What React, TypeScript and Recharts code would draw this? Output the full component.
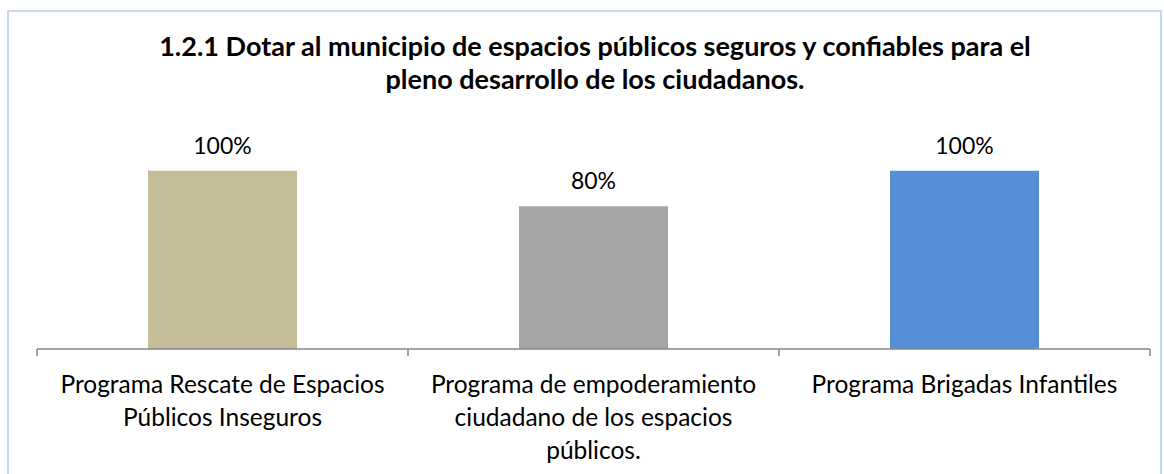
import React from 'react';
import { BarChart, Bar, XAxis, YAxis, Cell, LabelList } from 'recharts';

const categories = [
  'Programa Rescate de Espacios Públicos Inseguros',
  'Programa de empoderamiento ciudadano de los espacios públicos.',
  'Programa Brigadas Infantiles',
];
const tickLines = [
  ['Programa Rescate de Espacios', 'Públicos Inseguros'],
  ['Programa de empoderamiento', 'ciudadano de los espacios', 'públicos.'],
  ['Programa Brigadas Infantiles'],
];
const values = [1, 0.8, 1];
const barColors = ['#C4BD97', '#A5A5A5', '#558ED5'];
const titleLines = [
  '1.2.1 Dotar al municipio de espacios públicos seguros y confiables para el',
  'pleno desarrollo de los ciudadanos.',
];

const FONT = 'Lato, "Open Sans", sans-serif';

const data = categories.map((c, i) => ({ name: c, value: values[i], idx: i }));

const CategoryTick = (props: any) => {
  const { x, y, payload, index, width, visibleTicksCount } = props;
  const half = width / (visibleTicksCount || categories.length) / 2;
  const lines = tickLines[payload.index ?? index] || [String(payload.value)];
  return (
    <g>
      <line x1={x - half} y1={y - 8} x2={x - half} y2={y - 1} stroke="#868686" strokeWidth={1.5} />
      {index === categories.length - 1 && (
        <line x1={x + half} y1={y - 8} x2={x + half} y2={y - 1} stroke="#868686" strokeWidth={1.5} />
      )}
      <text x={x} y={y + 36} textAnchor="middle" fill="#000" fontSize={24.5} fontFamily={FONT}>
        {lines.map((l, i) => (
          <tspan key={i} x={x} dy={i === 0 ? 0 : 33}>{l}</tspan>
        ))}
      </text>
    </g>
  );
};

const fmt = (v: any) => `${Math.round(Number(v) * 100)}%`;

export default function App() {
  return (
    <div style={{ position: 'fixed', left: 0, top: 0, width: 1164, height: 474, background: '#fff', overflow: 'hidden' }}>
      <div
        style={{
          position: 'absolute', left: 7, top: 10, width: 1155, height: 480,
          border: '2px solid #C6D9F1', boxSizing: 'border-box',
        }}
      />
      <div
        style={{
          position: 'absolute', left: 0, width: 1190, top: 29, textAlign: 'center',
          fontFamily: FONT, fontWeight: 'bold', fontSize: 27, lineHeight: '33px', color: '#000',
        }}
      >
        {titleLines.map((t, i) => <div key={i}>{t}</div>)}
      </div>
      <div style={{ position: 'absolute', left: 0, top: 0 }}>
        <BarChart
          width={1164}
          height={474}
          data={data}
          margin={{ top: 135, right: 14, left: 37, bottom: 0 }}
          barSize={149}
        >
          <XAxis
            dataKey="name"
            interval={0}
            tickLine={false}
            axisLine={{ stroke: '#868686', strokeWidth: 1.5 }}
            tick={<CategoryTick />}
            height={125}
          />
          <YAxis hide domain={[0, 1.2]} width={0} />
          <Bar dataKey="value" isAnimationActive={false}>
            {data.map((d, i) => (
              <Cell key={i} fill={barColors[i]} />
            ))}
            <LabelList
              dataKey="value"
              position="top"
              offset={17}
              formatter={fmt}
              style={{ fill: '#000', fontSize: 23, fontFamily: FONT }}
            />
          </Bar>
        </BarChart>
      </div>
    </div>
  );
}
